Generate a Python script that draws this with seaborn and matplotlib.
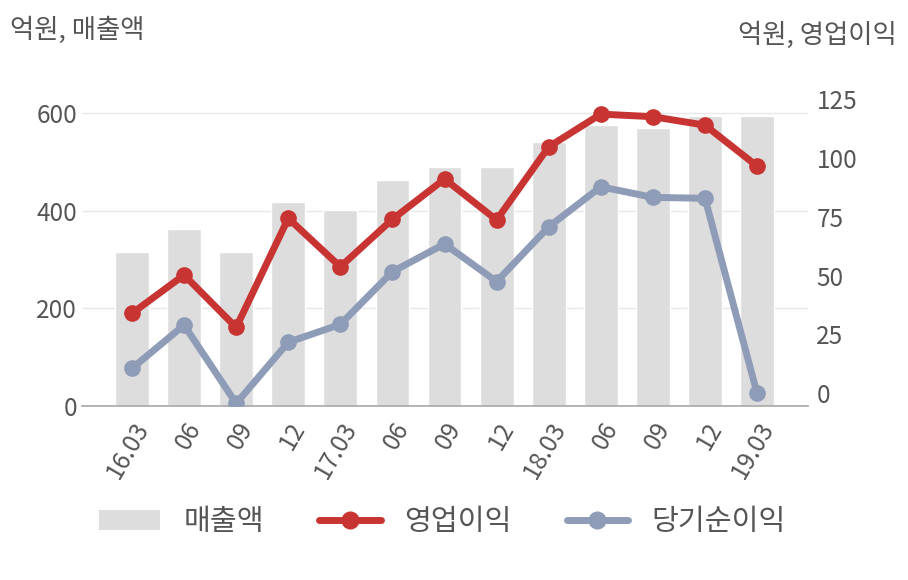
import numpy as np
import pandas as pd
import seaborn as sns
import matplotlib.pyplot as plt
from matplotlib.patches import Patch
from matplotlib.lines import Line2D

# data
quarters = ["16.03", "06", "09", "12", "17.03", "06", "09", "12",
            "18.03", "06", "09", "12", "19.03"]
sales = [315, 363, 315, 418, 401, 463, 490, 490, 542, 576, 570, 594, 594]
op_profit = [34, 50.3, 28, 74.4, 53.8, 74, 91.1, 73.7, 104.8, 118.7, 117.6, 114, 96.6]
net_profit = [10.6, 29, -4.3, 21.7, 29.3, 51.7, 63.5, 47.5, 70.8, 87.8, 83.3, 82.9, 0]

bar_color = "#dddddd"
red = "#c83431"
blue = "#8f9cb8"
text_color = "#555555"

sns.set_theme(style="white")
plt.rcParams['font.family'] = ['Noto Sans CJK KR', 'DejaVu Sans']

df = pd.DataFrame({"q": range(len(quarters)), "sales": sales,
                   "op": op_profit, "net": net_profit})

fig = plt.figure(figsize=(9.08, 5.8), dpi=100)
ax = fig.add_axes([0.0903, 0.30, 0.7997, 0.5288])

sns.barplot(x="q", y="sales", data=df, color=bar_color, width=0.65,
            saturation=1, ax=ax, zorder=2)
ax.set_ylim(0, 629)
ax.set_xlim(-0.96, 12.98)
ax.set_yticks([0, 200, 400, 600])
ax.grid(axis="y", color="#e8e8e8", linewidth=1, zorder=0)
ax.set_axisbelow(True)
ax.set_xticks(range(len(quarters)))
ax.set_xticklabels(quarters, rotation=60, ha="right", rotation_mode="anchor")
ax.set_xlabel("")
ax.set_ylabel("")
ax.tick_params(axis="both", length=0, labelsize=17.5, colors=text_color)
ax.tick_params(axis="x", pad=8)
for s in ["top", "right", "left"]:
    ax.spines[s].set_visible(False)
ax.spines["bottom"].set_color("#aaaaaa")

ax2 = ax.twinx()
sns.lineplot(x="q", y="op", data=df, color=red, linewidth=5, marker="o",
             markersize=12, markeredgewidth=0, ax=ax2)
sns.lineplot(x="q", y="net", data=df, color=blue, linewidth=5, marker="o",
             markersize=12, markeredgewidth=0, ax=ax2)
ax2.set_ylim(-5.4, 125)
ax2.set_yticks([0, 25, 50, 75, 100, 125])
ax2.set_ylabel("")
ax2.tick_params(axis="y", length=0, labelsize=17.5, colors=text_color, pad=6)
for s in ["top", "right", "left", "bottom"]:
    ax2.spines[s].set_visible(False)
ax2.set_xlim(-0.96, 12.98)

fig.text(0.011, 0.948, "억원, 매출액", fontsize=19, color=text_color, va="center")
fig.text(0.988, 0.94, "억원, 영업이익", fontsize=19, color=text_color,
         va="center", ha="right")

handles = [
    Patch(facecolor=bar_color, edgecolor="none"),
    Line2D([0], [0], color=red, linewidth=5, marker="o", markersize=12),
    Line2D([0], [0], color=blue, linewidth=5, marker="o", markersize=12),
]
fig.legend(handles, ["매출액", "영업이익", "당기순이익"], loc="center",
           bbox_to_anchor=(0.487, 0.1), ncol=3, frameon=False, fontsize=21,
           handlelength=2.1, handleheight=0.7, handletextpad=0.8,
           columnspacing=1.9, labelcolor=text_color)

fig.savefig("out.png", dpi=100)
